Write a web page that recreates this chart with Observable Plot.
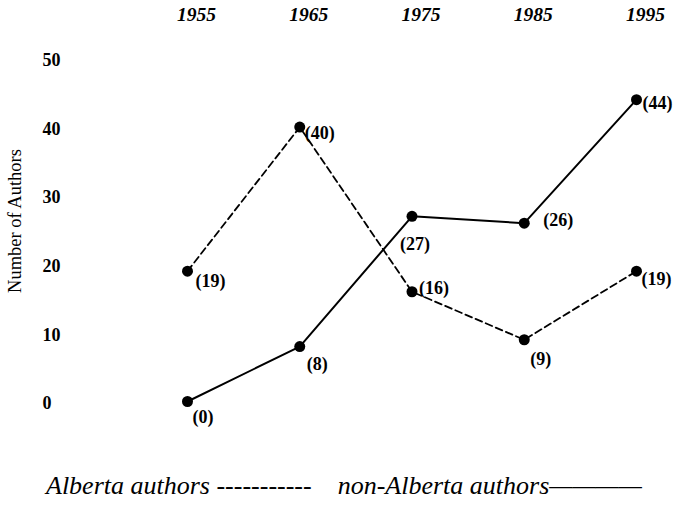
<!DOCTYPE html>
<html><head><meta charset="utf-8">
<script src="https://cdn.jsdelivr.net/npm/d3@7"></script>
<script src="https://cdn.jsdelivr.net/npm/@observablehq/plot@0.6"></script>
<style>
body{margin:0;background:#fff;}
#chart svg{display:block;}
#legend{font-family:'Liberation Serif','Times New Roman',serif;font-style:italic;font-size:26px;line-height:30px;padding-left:46px;margin-top:31px;white-space:pre;color:#000;}
</style></head><body><div id="chart"></div><div id="legend"></div>
<script>
const years = [1955, 1965, 1975, 1985, 1995];
const albertaAuthors = [19, 40, 16, 9, 19];
const nonAlbertaAuthors = [0, 8, 27, 26, 44];
const yTicks = [0, 10, 20, 30, 40, 50];
const seriesNames = ["Alberta authors", "non-Alberta authors"];
const yLabel = "Number of Authors";

const data = [];
years.forEach((yr, i) => {
  data.push({series: seriesNames[0], year: yr, value: albertaAuthors[i]});
  data.push({series: seriesNames[1], year: yr, value: nonAlbertaAuthors[i]});
});

// label placement (styling): [dx, dy] per series per year index
const labelOffsets = {
  [seriesNames[0]]: [[8,10],[5,6],[7,-4],[6,19],[5,8]],
  [seriesNames[1]]: [[5,16],[7,18],[-12,28],[19,-3],[6,4]]
};

const font = "Liberation Serif";
const labelMarks = data.map(d => {
  const [dx, dy] = labelOffsets[d.series][years.indexOf(d.year)];
  return Plot.text([d], {x: "year", y: "value", text: v => `(${v.value})`, dx, dy,
    textAnchor: "start", fontSize: 18, fontWeight: "bold", fontFamily: font, fill: "#000"});
});

const chart = Plot.plot({
  width: 679, height: 440,
  marginLeft: 187, marginRight: 43, marginTop: 58, marginBottom: 39,
  style: {fontFamily: font, background: "#fff", color: "#000"},
  x: {domain: [1955, 1995]},
  y: {domain: [0, 50]},
  marks: [
    Plot.axisX({anchor: "top", ticks: years, tickFormat: d => String(d), tickSize: 0, tickPadding: 38, dx: 9,
      fontSize: 19.5, fontStyle: "italic", fontWeight: "bold", fontFamily: font, label: null}),
    Plot.axisY({anchor: "left", ticks: yTicks, tickSize: 0, tickPadding: 145, textAnchor: "start", dy: 2,
      fontSize: 18, fontWeight: "bold", fontFamily: font, label: null}),
    Plot.text([yLabel], {frameAnchor: "left", rotate: -90, dx: -172, dy: -9, textAnchor: "middle",
      fontSize: 18.5, fontWeight: "normal", fontFamily: font, fill: "#000"}),
    Plot.line(data.filter(d => d.series === seriesNames[0]), {x: "year", y: "value", stroke: "#000", strokeWidth: 1.8, strokeDasharray: "7,4"}),
    Plot.line(data.filter(d => d.series === seriesNames[1]), {x: "year", y: "value", stroke: "#000", strokeWidth: 2}),
    Plot.dot(data, {x: "year", y: "value", r: 5.5, fill: "#000"}),
    ...labelMarks
  ]
});
document.getElementById("chart").appendChild(chart);
document.getElementById("legend").textContent = seriesNames[0] + " -----------    " + seriesNames[1] + "————";
</script>
</body></html>
